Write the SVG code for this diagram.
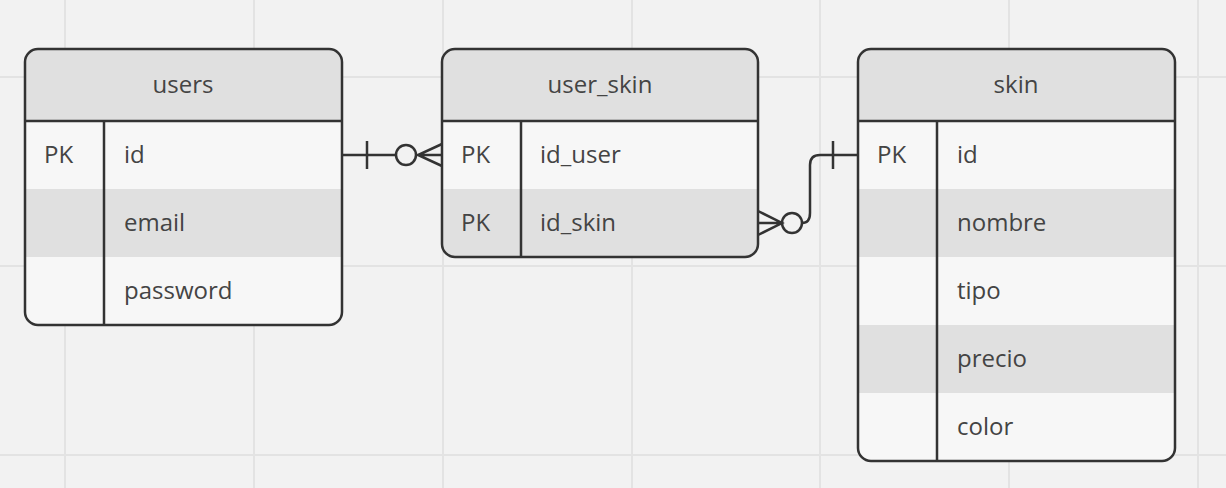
<svg xmlns="http://www.w3.org/2000/svg" width="1226" height="488" viewBox="0 0 1226 488">
<style>
.bg{fill:#f2f2f2}
.grid{stroke:#e3e3e3;stroke-width:2}
.hdr{fill:#e0e0e0}
.row{fill:#f7f7f7}
.alt{fill:#e0e0e0}
.frame{fill:none;stroke:#333;stroke-width:2.5}
.ln{stroke:#333;stroke-width:2.5;fill:none}
.t{font-family:"Open Sans","Noto Sans",sans-serif;font-size:24px;fill:#444}
.th{text-anchor:middle}
.c{fill:#f2f2f2;stroke:#333;stroke-width:2.5}
</style>
<rect class="bg" width="1226" height="488"/>
<g class="grid">
<line x1="65" y1="0" x2="65" y2="488"/><line x1="254" y1="0" x2="254" y2="488"/><line x1="443" y1="0" x2="443" y2="488"/><line x1="632" y1="0" x2="632" y2="488"/><line x1="820" y1="0" x2="820" y2="488"/><line x1="1009" y1="0" x2="1009" y2="488"/><line x1="1198" y1="0" x2="1198" y2="488"/>
<line x1="0" y1="77" x2="1226" y2="77"/><line x1="0" y1="266" x2="1226" y2="266"/><line x1="0" y1="455" x2="1226" y2="455"/>
</g>
<defs><clipPath id="cu"><rect x="25" y="49" width="317" height="276" rx="13"/></clipPath>
<clipPath id="cus"><rect x="442" y="49" width="316" height="208" rx="13"/></clipPath>
<clipPath id="cs"><rect x="858" y="49" width="317" height="412" rx="13"/></clipPath></defs>
<g id="users">
<g clip-path="url(#cu)">
<rect class="hdr" x="25" y="49" width="317" height="72"/>
<rect class="row" x="25" y="121" width="317" height="68"/>
<rect class="alt" x="25" y="189" width="317" height="68"/>
<rect class="row" x="25" y="257" width="317" height="68"/>
</g>
<rect class="frame" x="25" y="49" width="317" height="276" rx="13"/>
<line class="ln" x1="25" y1="121" x2="342" y2="121"/>
<line class="ln" x1="104" y1="121" x2="104" y2="325"/>
<text class="t th" x="183" y="93">users</text>
<text class="t" x="44" y="163">PK</text>
<text class="t" x="124" y="163">id</text>
<text class="t" x="124" y="231">email</text>
<text class="t" x="124" y="299">password</text>
</g>
<g id="user_skin">
<g clip-path="url(#cus)">
<rect class="hdr" x="442" y="49" width="316" height="72"/>
<rect class="row" x="442" y="121" width="316" height="68"/>
<rect class="alt" x="442" y="189" width="316" height="68"/>
</g>
<rect class="frame" x="442" y="49" width="316" height="208" rx="13"/>
<line class="ln" x1="442" y1="121" x2="758" y2="121"/>
<line class="ln" x1="521" y1="121" x2="521" y2="257"/>
<text class="t th" x="600" y="93">user_skin</text>
<text class="t" x="461" y="163">PK</text>
<text class="t" x="540" y="163">id_user</text>
<text class="t" x="461" y="231">PK</text>
<text class="t" x="540" y="231">id_skin</text>
</g>
<g id="skin">
<g clip-path="url(#cs)">
<rect class="hdr" x="858" y="49" width="317" height="72"/>
<rect class="row" x="858" y="121" width="317" height="68"/>
<rect class="alt" x="858" y="189" width="317" height="68"/>
<rect class="row" x="858" y="257" width="317" height="68"/>
<rect class="alt" x="858" y="325" width="317" height="68"/>
<rect class="row" x="858" y="393" width="317" height="68"/>
</g>
<rect class="frame" x="858" y="49" width="317" height="412" rx="13"/>
<line class="ln" x1="858" y1="121" x2="1175" y2="121"/>
<line class="ln" x1="937" y1="121" x2="937" y2="461"/>
<text class="t th" x="1016" y="93">skin</text>
<text class="t" x="877" y="163">PK</text>
<text class="t" x="957" y="163">id</text>
<text class="t" x="957" y="231">nombre</text>
<text class="t" x="957" y="299">tipo</text>
<text class="t" x="957" y="367">precio</text>
<text class="t" x="957" y="435">color</text>
</g>
<g id="connectors">
<path class="ln" d="M342,155 H396"/>
<line class="ln" x1="367" y1="141" x2="367" y2="169"/>
<circle class="c" cx="406" cy="155" r="10"/>
<path class="ln" d="M442,144 L418,155 L442,166 M418,155 H442"/>
<path class="ln" d="M802,223 Q810,223 810,213 V165 Q810,155 820,155 H858"/>
<line class="ln" x1="833" y1="141" x2="833" y2="169"/>
<circle class="c" cx="792" cy="223" r="10"/>
<path class="ln" d="M758,211 L782,223 L758,235 M758,223 H782"/>
</g>
</svg>
